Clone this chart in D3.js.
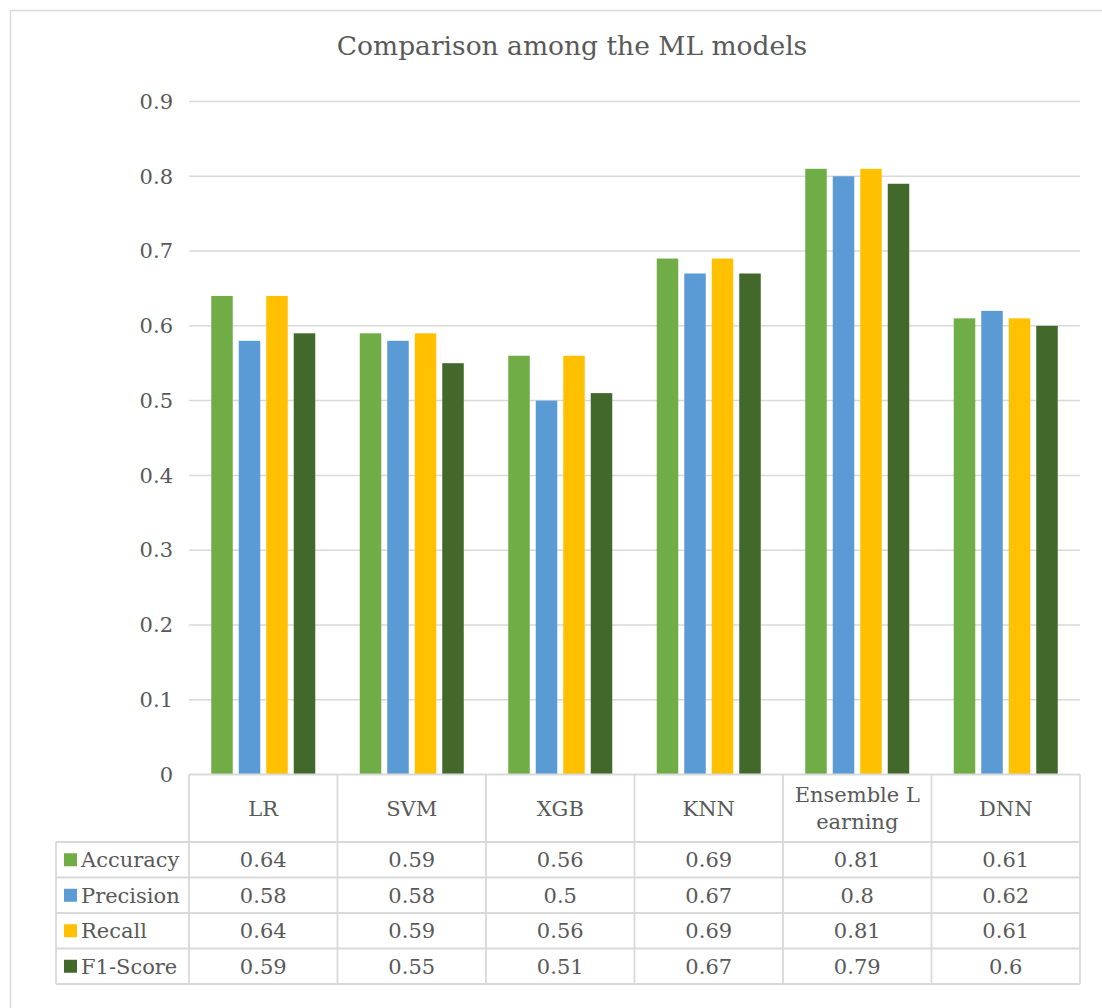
<!DOCTYPE html>
<html>
<head>
<meta charset="utf-8">
<script src="https://cdn.jsdelivr.net/npm/d3@7"></script>
<style>
  html, body { margin: 0; padding: 0; background: #fff; }
  svg { display: block; }
  text { font-family: "DejaVu Serif", "Liberation Serif", serif; fill: #595959; }
</style>
</head>
<body>
<svg id="chart" width="1102" height="1008"></svg>
<script>
// Model categories (table header labels; "\n" splits wrapped header lines)
const categories = ["LR", "SVM", "XGB", "KNN", "Ensemble L\nearning", "DNN"];
const seriesNames = ["Accuracy", "Precision", "Recall", "F1-Score"];
const accuracy  = [0.64, 0.59, 0.56, 0.69, 0.81, 0.61];
const precision = [0.58, 0.58, 0.50, 0.67, 0.80, 0.62];
const recall    = [0.64, 0.59, 0.56, 0.69, 0.81, 0.61];
const f1Score   = [0.59, 0.55, 0.51, 0.67, 0.79, 0.60];
const tableText = [
  ["0.64", "0.59", "0.56", "0.69", "0.81", "0.61"],
  ["0.58", "0.58", "0.5", "0.67", "0.8", "0.62"],
  ["0.64", "0.59", "0.56", "0.69", "0.81", "0.61"],
  ["0.59", "0.55", "0.51", "0.67", "0.79", "0.6"]
];
const yTicks = [0, 0.1, 0.2, 0.3, 0.4, 0.5, 0.6, 0.7, 0.8, 0.9];
const colors = ["#70AD47", "#5B9BD5", "#FFC000", "#43682B"];

const seriesValues = [accuracy, precision, recall, f1Score];
const FS = 21;

const svg = d3.select("#chart");

// Outer frame of the chart area
svg.append("rect")
  .attr("x", 10.5).attr("y", 10.5)
  .attr("width", 1140).attr("height", 1040)
  .attr("fill", "none").attr("stroke", "#D9D9D9").attr("stroke-width", 1.5);

const plot = { left: 189, right: 1080, top: 101.5, bottom: 774.5 };

const y = d3.scaleLinear().domain([0, 0.9]).range([plot.bottom, plot.top]);
const x0 = d3.scaleBand().domain(categories).range([plot.left, plot.right]).padding(0);
const groupW = 104;
const x1 = d3.scaleBand().domain(seriesNames).range([0, groupW]).paddingInner(0.218).paddingOuter(0);
const groupOffset = (x0.bandwidth() - groupW) / 2;

// Title
svg.append("text")
  .attr("x", 572).attr("y", 55)
  .attr("text-anchor", "middle")
  .attr("font-size", 26.5)
  .text("Comparison among the ML models");

// Horizontal gridlines
svg.append("g")
  .selectAll("line")
  .data(yTicks.filter(d => d > 0))
  .join("line")
  .attr("x1", plot.left).attr("x2", plot.right)
  .attr("y1", d => y(d)).attr("y2", d => y(d))
  .attr("stroke", "#D9D9D9").attr("stroke-width", 1.5);

// Y axis labels
const yAxis = d3.axisLeft(y).tickValues(yTicks).tickSize(0).tickPadding(0)
  .tickFormat(d => d === 0 ? "0" : d3.format(".1f")(d));
const yg = svg.append("g").attr("transform", `translate(173,0)`).call(yAxis);
yg.select(".domain").remove();
yg.selectAll("text")
  .attr("font-family", "DejaVu Serif")
  .attr("font-size", FS)
  .attr("fill", "#595959");

// Bars
const groups = svg.append("g")
  .selectAll("g")
  .data(categories.map((c, i) => ({ c, i })))
  .join("g")
  .attr("transform", d => `translate(${x0(d.c) + groupOffset},0)`);

groups.selectAll("rect")
  .data(d => seriesNames.map((s, k) => ({ s, k, v: seriesValues[k][d.i] })))
  .join("rect")
  .attr("x", d => x1(d.s))
  .attr("width", x1.bandwidth())
  .attr("y", d => y(d.v))
  .attr("height", d => y(0) - y(d.v))
  .attr("fill", d => colors[d.k]);

// Data table beneath the plot
const headerTop = plot.bottom;
const headerBottom = 842;
const rowH = 35.5;
const legendLeft = 56;
const tableBottom = headerBottom + rowH * seriesNames.length;
const grid = svg.append("g").attr("stroke", "#D9D9D9").attr("stroke-width", 1.8);

// header top (also the category axis line)
grid.append("line").attr("x1", plot.left).attr("x2", plot.right)
  .attr("y1", headerTop).attr("y2", headerTop);
// row separators
d3.range(seriesNames.length + 1).forEach(r => {
  const yy = headerBottom + r * rowH;
  grid.append("line").attr("x1", legendLeft).attr("x2", plot.right)
    .attr("y1", yy).attr("y2", yy);
});
// column separators
const colEdges = categories.map(c => x0(c)).concat([plot.right]);
colEdges.forEach(xx => {
  grid.append("line").attr("x1", xx).attr("x2", xx)
    .attr("y1", headerTop).attr("y2", tableBottom);
});
grid.append("line").attr("x1", legendLeft).attr("x2", legendLeft)
  .attr("y1", headerBottom).attr("y2", tableBottom);

// Header labels
const headerMid = (headerTop + headerBottom) / 2;
categories.forEach(c => {
  const lines = c.split("\n");
  const cx = x0(c) + x0.bandwidth() / 2;
  const lh = 27;
  const t = svg.append("text")
    .attr("text-anchor", "middle")
    .attr("font-size", FS);
  lines.forEach((ln, j) => {
    t.append("tspan")
      .attr("x", cx)
      .attr("y", headerMid + (j - (lines.length - 1) / 2) * lh)
      .attr("dy", "0.35em")
      .text(ln);
  });
});

// Rows: legend key + values
seriesNames.forEach((s, r) => {
  const cy = headerBottom + r * rowH + rowH / 2;
  svg.append("rect")
    .attr("x", 64).attr("y", cy - 6.5)
    .attr("width", 13).attr("height", 13)
    .attr("fill", colors[r]);
  svg.append("text")
    .attr("x", 81).attr("y", cy).attr("dy", "0.35em")
    .attr("font-size", FS)
    .text(s);
  categories.forEach((c, i) => {
    svg.append("text")
      .attr("x", x0(c) + x0.bandwidth() / 2)
      .attr("y", cy).attr("dy", "0.35em")
      .attr("text-anchor", "middle")
      .attr("font-size", FS)
      .text(tableText[r][i]);
  });
});
</script>
</body>
</html>
